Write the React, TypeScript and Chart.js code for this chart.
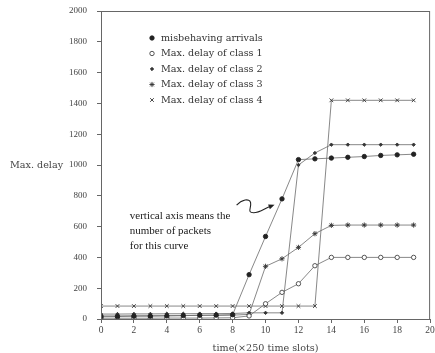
import React, { useEffect, useRef } from 'react';
import { Chart, registerables } from 'chart.js';
import { drawPoint } from 'chart.js/helpers';

Chart.register(...registerables);

const timeSlots = [0, 1, 2, 3, 4, 5, 6, 7, 8, 9, 10, 11, 12, 13, 14, 15, 16, 17, 18, 19];
const misbehavingArrivals = [15, 16, 18, 18, 20, 22, 24, 25, 28, 288, 536, 780, 1035, 1040, 1045, 1050, 1055, 1062, 1066, 1070];
const delayClass1 = [5, 5, 5, 5, 6, 6, 6, 7, 8, 20, 99, 173, 229, 346, 400, 400, 400, 400, 400, 400];
const delayClass2 = [32, 32, 33, 33, 34, 34, 35, 35, 36, 40, 40, 40, 1000, 1078, 1132, 1132, 1132, 1132, 1132, 1132];
const delayClass3 = [20, 20, 21, 22, 22, 22, 24, 24, 25, 30, 342, 391, 465, 554, 608, 610, 610, 610, 610, 610];
const delayClass4 = [84, 84, 84, 84, 84, 84, 84, 84, 84, 84, 84, 84, 84, 84, 1420, 1420, 1420, 1420, 1420, 1420];

const seriesLabels = [
  'misbehaving arrivals',
  'Max. delay of class 1',
  'Max. delay of class 2',
  'Max. delay of class 3',
  'Max. delay of class 4',
];
const xTickValues = [0, 2, 4, 6, 8, 10, 12, 14, 16, 18, 20];
const yTickValues = [0, 200, 400, 600, 800, 1000, 1200, 1400, 1600, 1800, 2000];
const yAxisTitle = 'Max. delay';
const xAxisTitle = 'time(\u00d7250 time slots)';
const noteLines = ['vertical axis means the', 'number of packets', 'for this curve'];
const noteAnchor = { x: 1.75, y: 651 };
const arrowTip = { x: 10.55, y: 742 };

const SERIF = "'Liberation Serif', 'DejaVu Serif', serif";
const WIDE_SERIF = "'DejaVu Serif', 'Liberation Serif', serif";

type Marker = { style: string; radius: number; fill: string; stroke: string };
const markers: Marker[] = [
  { style: 'circle', radius: 2.2, fill: '#222', stroke: '#222' },
  { style: 'circle', radius: 2.2, fill: '#fff', stroke: '#444' },
  { style: 'rectRot', radius: 1.7, fill: '#333', stroke: '#333' },
  { style: 'star', radius: 2.6, fill: '#333', stroke: '#333' },
  { style: 'crossRot', radius: 2.6, fill: '#333', stroke: '#333' },
];

const seriesValues = [misbehavingArrivals, delayClass1, delayClass2, delayClass3, delayClass4];

const overlayPlugin = {
  id: 'overlay',
  afterDraw(chart: any) {
    const { ctx, chartArea } = chart;
    const xs = chart.scales.x;
    const ys = chart.scales.y;
    ctx.save();
    // frame
    ctx.strokeStyle = '#666';
    ctx.lineWidth = 1;
    ctx.strokeRect(chartArea.left + 0.5, chartArea.top + 0.5, chartArea.right - chartArea.left - 1, chartArea.bottom - chartArea.top);

    // legend
    ctx.font = `9.6px ${WIDE_SERIF}`;
    ctx.textBaseline = 'middle';
    ctx.textAlign = 'left';
    seriesLabels.forEach((label, i) => {
      const y = chartArea.top + 27 + i * 15.5;
      const mx = chartArea.left + 51;
      const m = markers[i];
      ctx.fillStyle = m.fill;
      ctx.strokeStyle = m.stroke;
      ctx.lineWidth = 0.9;
      drawPoint(ctx, { pointStyle: m.style as any, radius: m.radius, rotation: 0, borderWidth: 0.9 }, mx, y);
      ctx.fillStyle = '#333';
      ctx.fillText(label, chartArea.left + 60, y);
    });

    // axis titles
    ctx.fillStyle = '#444';
    ctx.font = `9.6px ${WIDE_SERIF}`;
    ctx.textAlign = 'left';
    ctx.textBaseline = 'middle';
    ctx.fillText(yAxisTitle, 10, ys.getPixelForValue(1000));
    ctx.textAlign = 'center';
    ctx.fillText(xAxisTitle, (chartArea.left + chartArea.right) / 2, 348);

    // note text
    ctx.fillStyle = '#1a1a1a';
    ctx.font = `11px ${SERIF}`;
    ctx.textAlign = 'left';
    ctx.textBaseline = 'alphabetic';
    const nx = xs.getPixelForValue(noteAnchor.x);
    const ny = ys.getPixelForValue(noteAnchor.y);
    noteLines.forEach((line, i) => ctx.fillText(line, nx, ny + i * 15));

    // squiggly arrow
    const tx = xs.getPixelForValue(arrowTip.x);
    const ty = ys.getPixelForValue(arrowTip.y);
    ctx.strokeStyle = '#222';
    ctx.lineWidth = 1.1;
    ctx.beginPath();
    ctx.moveTo(tx - 38, ty + 0.5);
    ctx.bezierCurveTo(tx - 33, ty - 5, tx - 25, ty - 7, tx - 24, ty - 2);
    ctx.bezierCurveTo(tx - 23, ty + 3, tx - 28, ty + 8, tx - 21, ty + 8);
    ctx.bezierCurveTo(tx - 15, ty + 8, tx - 9, ty + 3, tx - 4, ty + 1.5);
    ctx.stroke();
    const ang = Math.atan2(-1.5, 4);
    ctx.fillStyle = '#222';
    ctx.beginPath();
    ctx.moveTo(tx, ty);
    ctx.lineTo(tx - 6 * Math.cos(ang) + 2.5 * Math.sin(ang), ty - 6 * Math.sin(ang) - 2.5 * Math.cos(ang));
    ctx.lineTo(tx - 6 * Math.cos(ang) - 2.5 * Math.sin(ang), ty - 6 * Math.sin(ang) + 2.5 * Math.cos(ang));
    ctx.closePath();
    ctx.fill();
    ctx.restore();
  },
};

export default function App() {
  const ref = useRef<HTMLCanvasElement | null>(null);
  useEffect(() => {
    if (!ref.current) return;
    const datasets = seriesValues.map((vals, i) => ({
      label: seriesLabels[i],
      data: vals.map((v, j) => ({ x: timeSlots[j], y: v })),
      borderColor: '#6a6a6a',
      borderWidth: 0.8,
      pointStyle: markers[i].style as any,
      pointRadius: markers[i].radius,
      pointBackgroundColor: markers[i].fill,
      pointBorderColor: markers[i].stroke,
      pointBorderWidth: 0.9,
      fill: false,
      tension: 0,
    }));
    const chart = new Chart(ref.current, {
      type: 'line',
      data: { datasets },
      options: {
        animation: false,
        responsive: false,
        maintainAspectRatio: false,
        layout: { padding: { top: 11, right: 4, left: 0, bottom: 0 } },
        plugins: { legend: { display: false }, tooltip: { enabled: false } },
        scales: {
          x: {
            type: 'linear',
            min: 0,
            max: 20,
            afterBuildTicks: (scale: any) => {
              scale.ticks = xTickValues.map((v) => ({ value: v }));
            },
            afterFit: (scale: any) => {
              scale.height = 34;
              scale.paddingLeft = 0;
              scale.paddingRight = 0;
            },
            ticks: {
              color: '#444',
              font: { family: SERIF, size: 9.5 },
              padding: 2,
              maxRotation: 0,
              autoSkip: false,
              callback: (v: any) => String(v),
            },
            grid: { drawOnChartArea: false, drawTicks: true, tickLength: 4, color: '#666' },
            border: { display: true, color: '#666', width: 1 },
          },
          y: {
            type: 'linear',
            min: 0,
            max: 2000,
            afterBuildTicks: (scale: any) => {
              scale.ticks = yTickValues.map((v) => ({ value: v }));
            },
            afterFit: (scale: any) => {
              scale.width = 101;
              scale.paddingTop = 0;
              scale.paddingBottom = 0;
            },
            ticks: {
              color: '#444',
              font: { family: SERIF, size: 9 },
              padding: 10,
              autoSkip: false,
              callback: (v: any) => String(v),
            },
            grid: { drawOnChartArea: false, drawTicks: true, tickLength: 4, color: '#666' },
            border: { display: true, color: '#666', width: 1 },
          },
        },
      },
      plugins: [overlayPlugin],
    });
    return () => chart.destroy();
  }, []);
  return (
    <div style={{ position: 'fixed', left: 0, top: 0, width: 435, height: 353, background: '#fff' }}>
      <canvas ref={ref} width={435} height={353} style={{ width: 435, height: 353, display: 'block' }} />
    </div>
  );
}
